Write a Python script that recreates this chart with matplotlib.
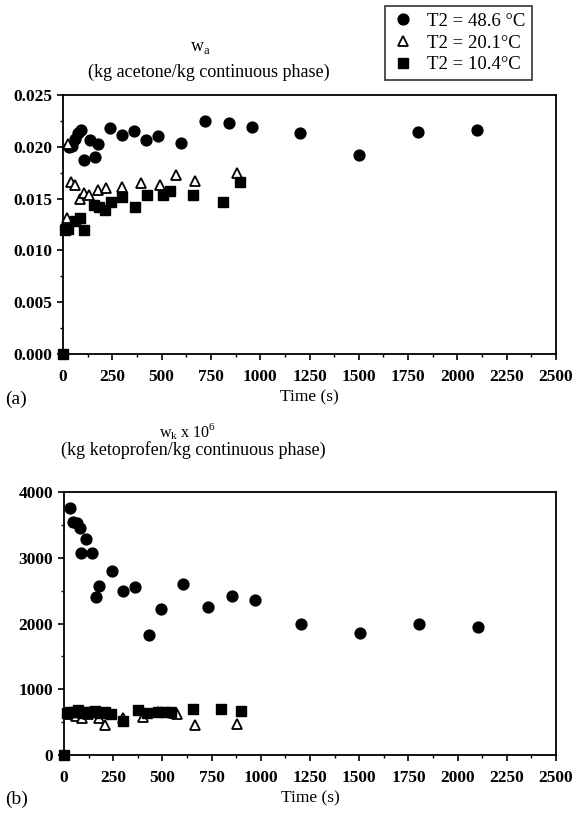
import numpy as np
import matplotlib
matplotlib.use("Agg")
import matplotlib.pyplot as plt
from matplotlib.ticker import MultipleLocator, FormatStrFormatter

plt.rcParams['font.family'] = ['Liberation Serif', 'DejaVu Serif']

# (a) acetone mass fraction
t_a_486 = [30, 45, 60, 75, 90, 105, 135, 160, 175, 240, 300, 360, 420, 480,
           600, 720, 840, 960, 1200, 1500, 1800, 2100]
wa_486 = [0.0200, 0.0201, 0.0208, 0.0213, 0.0216, 0.0187, 0.0207, 0.0190, 0.0203,
          0.0218, 0.0211, 0.0215, 0.0207, 0.0210, 0.0204, 0.0225, 0.0223, 0.0219,
          0.0213, 0.0192, 0.0214, 0.0216]
t_a_201 = [20, 27, 40, 60, 85, 105, 130, 180, 220, 300, 395, 490, 575, 670, 880]
wa_201 = [0.0131, 0.0203, 0.0166, 0.0163, 0.0150, 0.0155, 0.0153, 0.0158, 0.0160,
          0.0161, 0.0165, 0.0163, 0.0173, 0.0167, 0.0175]
t_a_104 = [0, 10, 25, 60, 85, 105, 155, 185, 215, 245, 300, 365, 425, 505, 545,
           660, 810, 900]
wa_104 = [0.0, 0.0120, 0.0121, 0.0128, 0.0131, 0.0120, 0.0144, 0.0142, 0.0139,
          0.0147, 0.0152, 0.0142, 0.0153, 0.0153, 0.0157, 0.0153, 0.0147, 0.0166]

# (b) ketoprofen mass fraction x 1e6
t_k_486 = [28, 48, 65, 79, 87, 110, 143, 163, 176, 245, 302, 363, 431, 491, 607,
           731, 852, 969, 1204, 1506, 1806, 2106]
wk_486 = [3752, 3549, 3524, 3448, 3077, 3281, 3068, 2398, 2570, 2800, 2500, 2560,
          1818, 2227, 2601, 2250, 2414, 2354, 2000, 1848, 1985, 1944]
t_k_201 = [30, 60, 90, 120, 180, 210, 300, 400, 480, 560, 575, 665, 880]
wk_201 = [620, 600, 570, 620, 570, 460, 560, 580, 650, 640, 620, 450, 470]
t_k_104 = [0, 15, 30, 50, 70, 90, 110, 135, 160, 185, 210, 240, 300, 375, 420,
           480, 510, 545, 655, 800, 900]
wk_104 = [0, 640, 660, 650, 680, 640, 660, 650, 670, 640, 650, 630, 520, 685, 640,
          660, 650, 660, 695, 700, 670]

labels = ["T2 = 48.6 \u00b0C", "T2 = 20.1\u00b0C", "T2 = 10.4\u00b0C"]

fig = plt.figure(figsize=(5.72, 8.21), dpi=100)
ax1 = fig.add_axes([63/572, 1-354/821, 493/572, 259/821])
ax2 = fig.add_axes([64/572, 1-755/821, 492/572, 263/821])

circ = dict(marker='o', ls='none', ms=7.8, mfc='black', mec='black', clip_on=False, zorder=3)
tri = dict(marker='^', ls='none', ms=7.5, mfc='white', mec='black', mew=1.3, clip_on=False, zorder=4)
sq = dict(marker='s', ls='none', ms=7.5, mfc='black', mec='black', clip_on=False, zorder=5)

h1, = ax1.plot(t_a_486, wa_486, **circ)
h2, = ax1.plot(t_a_201, wa_201, **tri)
h3, = ax1.plot(t_a_104, wa_104, **sq)
ax2.plot(t_k_486, wk_486, **circ)
ax2.plot(t_k_201, wk_201, **tri)
ax2.plot(t_k_104, wk_104, **sq)

ax1.set_ylim(0, 0.025)
ax1.yaxis.set_major_locator(MultipleLocator(0.005))
ax1.yaxis.set_minor_locator(MultipleLocator(0.0025))
ax1.yaxis.set_major_formatter(FormatStrFormatter('%.3f'))
ax2.set_ylim(0, 4000)
ax2.yaxis.set_major_locator(MultipleLocator(1000))
ax2.yaxis.set_minor_locator(MultipleLocator(500))

for ax in (ax1, ax2):
    ax.set_xlim(0, 2500)
    ax.xaxis.set_major_locator(MultipleLocator(250))
    ax.xaxis.set_minor_locator(MultipleLocator(125))
    ax.tick_params(which='major', direction='out', length=4, width=1.2,
                   labelsize=12.5)
    ax.tick_params(axis='y', which='major', pad=4)
    ax.tick_params(axis='x', which='major', pad=7)
    ax.tick_params(which='minor', direction='out', length=2.5, width=1)
    for lab in ax.get_xticklabels() + ax.get_yticklabels():
        lab.set_fontweight('bold')
    for s in ax.spines.values():
        s.set_linewidth(1.3)
    ax.set_xlabel("Time (s)", fontsize=12.5, labelpad=3)

fig.text(200/572, 1-47/821, r"w$_\mathregular{a}$", ha='center', va='center', fontsize=13)
fig.text(209/572, 1-72/821, "(kg acetone/kg continuous phase)", ha='center', va='center', fontsize=13)
fig.text(188/572, 1-432/821, r"w$_\mathregular{k}$ x 10$^\mathregular{6}$", ha='center', va='center', fontsize=11.5)
fig.text(193/572, 1-450/821, "(kg ketoprofen/kg continuous phase)", ha='center', va='center', fontsize=13)
fig.text(5/572, 1-399/821, "(a)", ha='left', va='center', fontsize=14)
fig.text(5/572, 1-799/821, "(b)", ha='left', va='center', fontsize=14)

leg = fig.legend([h1, h2, h3], labels, loc='upper left',
                 bbox_to_anchor=(385/572, 1-6/821), fontsize=13.5,
                 frameon=True, fancybox=False, handletextpad=0.7,
                 borderpad=0.35, labelspacing=0.25, handlelength=1.2,
                 borderaxespad=0)
leg.get_frame().set_edgecolor('black')
leg.get_frame().set_linewidth(1.2)

fig.savefig("out.png", dpi=100)
